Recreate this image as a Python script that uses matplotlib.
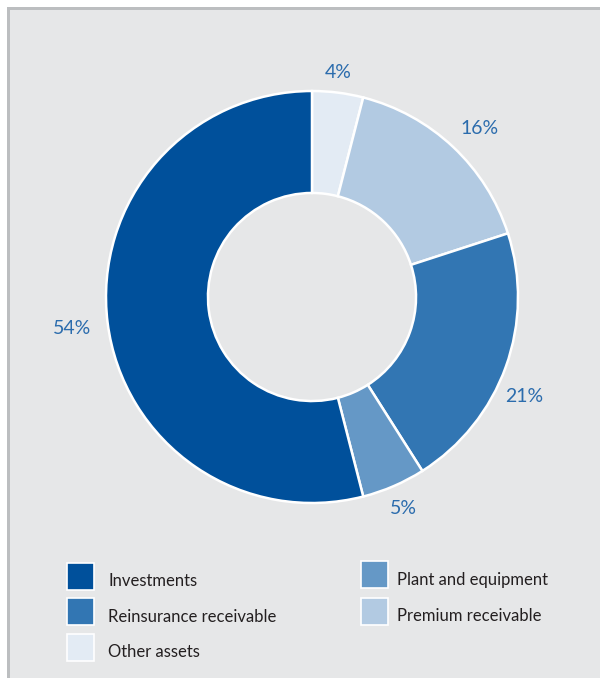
import matplotlib.pyplot as plt
from matplotlib.patches import Rectangle

plt.rcParams['font.family'] = ['Lato', 'DejaVu Sans']

# Asset mix, clockwise from 12 o'clock
categories = ['Other assets', 'Premium receivable', 'Reinsurance receivable',
              'Plant and equipment', 'Investments']
shares = [4, 16, 21, 5, 54]
colors = ['#e3ebf4', '#b2cae2', '#3276b3', '#6598c6', '#00509b']

# where the percentage labels sit (pixel coords, origin bottom-left)
label_pos = [(338, 606), (480, 550), (524, 281), (403, 170), (72, 350)]

# legend layout: two columns
legend_left = ['Investments', 'Reinsurance receivable', 'Other assets']
legend_right = ['Plant and equipment', 'Premium receivable']

W, H = 600, 678
fig = plt.figure(figsize=(W / 100, H / 100), dpi=100)
fig.patch.set_facecolor('white')
ax = fig.add_axes([0, 0, 1, 1])

# grey panel with darker top/left rule
ax.add_patch(Rectangle((6.5, 0), W, H - 6.5, facecolor='#bcbec0', edgecolor='none', zorder=0))
ax.add_patch(Rectangle((9.5, 0), W, H - 9.5, facecolor='#e6e7e8', edgecolor='none', zorder=0))

cx, cy, r = 312, 381, 206
ax.pie(shares, colors=colors, startangle=90, counterclock=False,
       center=(cx, cy), radius=r, frame=True,
       wedgeprops=dict(width=r * 0.495, edgecolor='white', linewidth=1.8))
ax.set_xlim(0, W)
ax.set_ylim(0, H)
ax.set_aspect('auto')
ax.axis('off')

for v, (x, y) in zip(shares, label_pos):
    ax.text(x, y, f'{v}%', ha='center', va='center', fontsize=14,
            color='#2b6cad')

col = dict(zip(categories, colors))
sq = 27


def legend_item(x, y, name, gap):
    ax.add_patch(Rectangle((x, y - sq / 2), sq, sq, facecolor=col[name],
                           edgecolor='white', linewidth=1.2, zorder=3))
    ax.text(x + sq + gap, y - 10, name, ha='left', va='baseline',
            fontsize=12, color='#231f20')


for i, name in enumerate(legend_left):
    legend_item(67, H - 576 - i * 35.7, name, 14)
for i, name in enumerate(legend_right):
    legend_item(361, H - 574.5 - i * 36.5, name, 9)

fig.savefig('out.png', dpi=100, facecolor=fig.get_facecolor())
